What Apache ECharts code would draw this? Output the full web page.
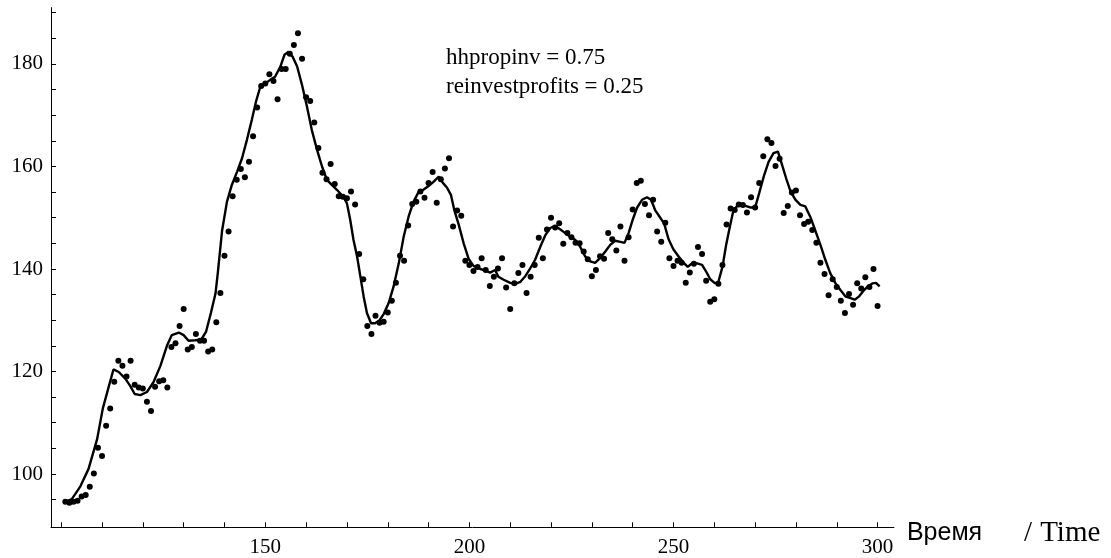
<!DOCTYPE html>
<html>
<head>
<meta charset="utf-8">
<script src="https://cdn.jsdelivr.net/npm/echarts@6/dist/echarts.min.js"></script>
<style>
  html, body { margin: 0; padding: 0; background: #fff; }
  #chart { width: 1111px; height: 558px; }
</style>
</head>
<body>
<div id="chart"></div>
<script>
// точки: время 101..300, шаг 1
const firstTime = 101;
const pointValues = [
  94.6, 94.4, 94.6, 94.8, 95.6, 95.9, 97.5, 100.1, 105.1, 103.5,
  109.4, 112.8, 118.0, 122.1, 121.1, 119.0, 122.1, 117.4, 116.9, 116.7,
  114.1, 112.3, 117.0, 118.1, 118.3, 116.9, 124.8, 125.5, 128.9, 132.2,
  124.3, 124.8, 127.3, 126.0, 126.0, 123.9, 124.3, 129.6, 135.3, 142.6,
  147.3, 154.2, 157.4, 159.5, 157.9, 160.9, 165.9, 171.5, 175.7, 176.2,
  178.0, 176.7, 173.1, 179.0, 179.0, 182.0, 183.7, 186.0, 181.0, 173.5,
  172.8, 168.6, 163.6, 158.8, 157.5, 160.5, 156.6, 154.2, 154.1, 153.8,
  155.1, 152.6, 142.9, 138.0, 128.9, 127.3, 130.9, 129.5, 129.7, 131.5,
  133.8, 137.3, 142.6, 141.6, 148.5, 152.7, 153.1, 155.1, 153.9, 156.8,
  158.9, 152.9, 157.5, 159.6, 161.6, 148.3, 151.4, 150.4, 141.6, 140.8,
  139.6, 140.4, 142.1, 139.8, 136.7, 138.5, 140.1, 142.1, 136.4, 132.2,
  137.2, 139.2, 140.8, 135.3, 138.5, 140.8, 146.1, 142.1, 147.7, 150.0,
  148.1, 148.9, 144.9, 147.0, 146.2, 145.1, 145.0, 143.4, 141.9, 138.6,
  139.8, 142.5, 142.0, 147.0, 145.8, 143.6, 148.3, 141.6, 146.2, 151.6,
  156.8, 157.2, 152.7, 150.5, 153.5, 147.3, 145.3, 149.0, 142.1, 140.6,
  141.6, 141.2, 137.3, 139.3, 141.0, 144.3, 142.9, 137.7, 133.6, 134.1,
  137.1, 140.8, 148.7, 151.8, 151.5, 152.6, 152.5, 151.0, 154.0, 152.0,
  156.8, 162.0, 165.3, 164.6, 160.1, 161.5, 150.9, 152.3, 154.9, 155.3,
  150.5, 148.8, 149.2, 147.6, 145.1, 141.2, 139.0, 134.9, 138.0, 136.5,
  133.8, 131.4, 135.1, 133.0, 137.2, 136.2, 138.4, 136.5, 140.0, 132.8
];

// сглаженная линия
const lineTimes = [
  100.8, 102.6, 104.7, 106.7, 108.8, 110.2, 111.6, 112.8, 114.1, 115.7,
  116.9, 118.0, 119.4, 121.0, 122.6, 124.3, 125.9, 127.1, 128.8, 130.0,
  131.2, 132.8, 134.3, 135.5, 136.7, 137.8, 138.4, 139.4, 140.6, 141.8,
  143.1, 144.3, 145.5, 146.7, 147.7, 148.8, 150.0, 151.2, 152.4, 153.7,
  154.7, 155.7, 156.7, 157.8, 159.0, 160.2, 161.4, 162.7, 163.9, 165.1,
  166.3, 167.6, 169.2, 170.0, 170.8, 171.6, 172.5, 173.3, 174.1, 174.9,
  175.9, 176.9, 178.0, 179.0, 180.2, 181.4, 182.7, 183.9, 185.1, 186.3,
  187.6, 188.8, 190.0, 191.2, 192.5, 193.5, 194.5, 195.5, 196.3, 197.4,
  198.6, 199.8, 201.0, 202.7, 203.9, 205.1, 206.3, 207.1, 208.4, 210.0,
  211.2, 212.5, 213.7, 214.9, 216.1, 217.4, 218.6, 219.8, 221.0, 222.3,
  223.5, 224.7, 225.9, 227.1, 228.4, 229.6, 230.8, 232.0, 233.3, 234.5,
  235.7, 237.0, 238.0, 239.0, 240.0, 241.1, 242.3, 243.5, 244.5, 245.5,
  246.6, 247.7, 248.8, 250.0, 251.3, 252.5, 253.5, 254.5, 255.8, 257.0,
  258.0, 259.0, 260.2, 261.0, 262.0, 262.9, 263.9, 264.7, 266.0, 267.6,
  268.9, 270.0, 271.0, 272.1, 273.3, 274.5, 275.6, 276.6, 277.6, 278.7,
  279.9, 281.1, 282.3, 283.5, 284.7, 286.0, 287.2, 288.4, 289.7, 290.9,
  292.2, 293.4, 294.4, 295.4, 296.7, 297.8, 298.8, 299.6, 300.5
];
const lineValues = [
  94.5, 95.1, 97.6, 101.0, 106.8, 112.8, 116.9, 120.4, 119.9, 118.6,
  117.2, 115.6, 115.4, 116.0, 117.9, 121.1, 125.0, 127.1, 127.6, 127.1,
  126.0, 126.1, 126.2, 127.8, 131.5, 135.2, 139.5, 147.4, 153.1, 156.4,
  159.0, 161.6, 165.2, 169.1, 172.6, 175.6, 176.2, 176.9, 177.5, 179.5,
  181.8, 182.4, 181.4, 179.5, 175.9, 171.7, 167.1, 163.2, 160.0, 157.4,
  156.4, 155.4, 154.0, 152.8, 149.6, 145.7, 142.4, 138.5, 134.6, 131.4,
  129.4, 129.4, 130.0, 131.2, 133.3, 136.5, 141.1, 146.3, 150.2, 153.1,
  155.1, 155.5, 156.2, 157.0, 158.0, 156.8, 155.9, 154.4, 151.5, 148.6,
  145.0, 142.0, 140.6, 140.0, 139.7, 139.3, 139.8, 138.5, 137.9, 137.3,
  137.1, 137.5, 138.6, 140.1, 141.8, 144.4, 146.6, 148.0, 148.4, 147.7,
  147.0, 146.3, 145.7, 144.4, 142.4, 141.5, 141.2, 142.1, 143.4, 144.7,
  145.5, 145.3, 145.1, 147.0, 149.6, 152.0, 153.5, 154.0, 153.5, 151.5,
  150.2, 148.9, 145.8, 143.8, 142.4, 141.2, 140.4, 141.1, 141.1, 140.8,
  139.5, 138.0, 137.2, 137.5, 140.4, 144.7, 148.6, 151.5, 152.6, 152.3,
  152.0, 152.0, 154.8, 158.0, 160.9, 162.6, 162.9, 160.3, 157.7, 155.1,
  153.5, 152.5, 152.2, 150.2, 147.6, 144.7, 141.8, 139.2, 137.2, 135.9,
  134.6, 134.3, 134.0, 134.6, 135.9, 136.7, 137.2, 137.3, 136.6
];

const xLabels = [150, 200, 250, 300];
const xTicks = [100, 110, 120, 130, 140, 150, 160, 170, 180, 190, 200, 210, 220, 230, 240, 250, 260, 270, 280, 290, 300];
const yLabels = [100, 120, 140, 160, 180];
const yTicks = [95, 100, 105, 110, 115, 120, 125, 130, 135, 140, 145, 150, 155, 160, 165, 170, 175, 180, 185, 190];

const chart = echarts.init(document.getElementById('chart'));

const serif = 'Liberation Serif';

chart.setOption({
  animation: false,
  backgroundColor: '#fff',
  grid: {
    left: 51,
    top: 7.6,
    width: 842.9,
    height: 519.7,
    outerBoundsMode: 'none'
  },
  graphic: [{
    type: 'text',
    left: 446,
    top: 43,
    style: {
      text: 'hhpropinv = 0.75\nreinvestprofits = 0.25',
      font: '23px "Liberation Serif"',
      lineHeight: 29,
      fill: '#000'
    }
  }],
  xAxis: {
    type: 'value',
    min: 97.5,
    max: 304,
    splitLine: { show: false },
    axisLine: { onZero: false, lineStyle: { color: '#000', width: 1 } },
    axisTick: { inside: true, length: 5, customValues: xTicks, lineStyle: { color: '#000' } },
    axisLabel: {
      customValues: xLabels,
      margin: 10,
      color: '#000',
      fontFamily: serif,
      fontSize: 21
    },
    name: '{a|Время}{s|}{b|/}{t|}{b|Time}',
    nameLocation: 'end',
    nameGap: 13,
    nameTextStyle: {
      padding: [12, 0, 0, 0],
      rich: {
        a: { fontFamily: 'Liberation Sans', fontSize: 25, color: '#000' },
        s: { width: 42 },
        t: { width: 8 },
        b: { fontFamily: serif, fontSize: 29, color: '#000' }
      }
    }
  },
  yAxis: {
    type: 'value',
    min: 89.6,
    max: 191,
    splitLine: { show: false },
    axisLine: { show: true, onZero: false, lineStyle: { color: '#000', width: 1 } },
    axisTick: { show: true, inside: true, length: 5, customValues: yTicks, lineStyle: { color: '#000' } },
    axisLabel: {
      customValues: yLabels,
      margin: 8,
      color: '#000',
      fontFamily: serif,
      fontSize: 21
    }
  },
  series: [
    {
      type: 'scatter',
      symbol: 'circle',
      symbolSize: 6,
      itemStyle: { color: '#000', opacity: 1 },
      data: pointValues.map((v, i) => [firstTime + i, v])
    },
    {
      type: 'line',
      showSymbol: false,
      lineStyle: { color: '#000', width: 2.4 },
      data: lineTimes.map((t, i) => [t, lineValues[i]])
    }
  ]
});
</script>
</body>
</html>
